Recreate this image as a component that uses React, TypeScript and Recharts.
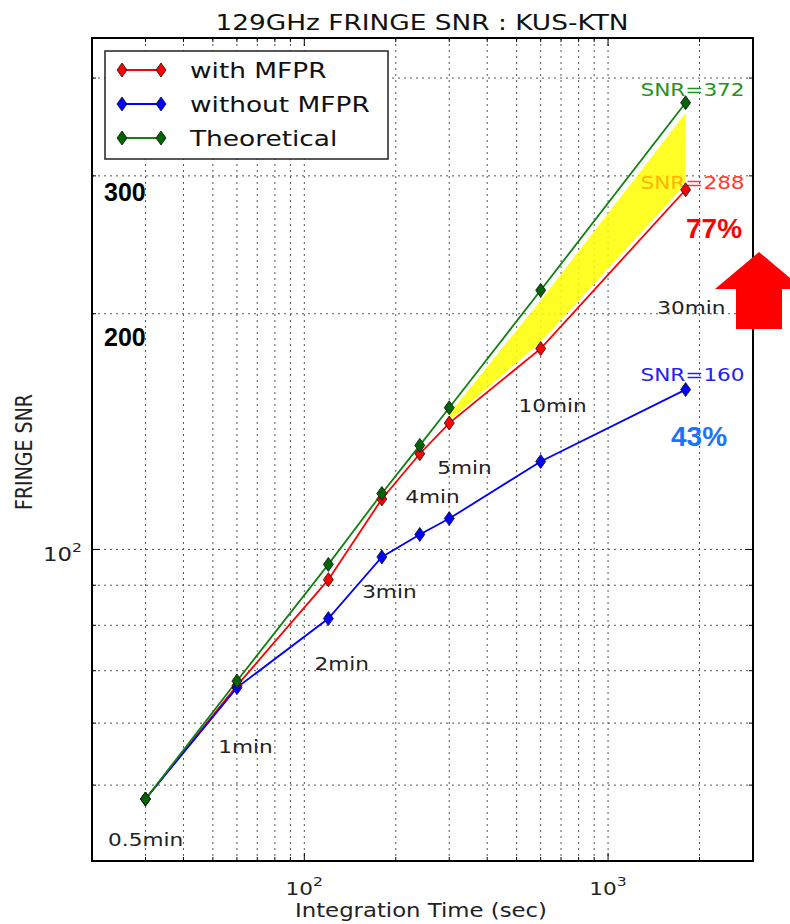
import { ComposedChart, Line, Area, XAxis, YAxis, CartesianGrid, Legend, ReferenceDot, ReferenceArea } from 'recharts';

// integration time (sec) and SNR readings
const times = [30, 60, 120, 180, 240, 300, 600, 1800];
const withMfpr = [48, 67, 91.5, 116, 132.5, 145, 180.5, 288];
const withoutMfpr = [48, 66.6, 81.6, 97.8, 104.5, 109.5, 129.5, 160];
const theoretical = [48, 67.9, 95.7, 117.9, 135.8, 151.7, 214.3, 372];
// yellow band between "with MFPR" and "Theoretical"
const gapLow = [null, null, null, null, null, 146, 184, 293];
const gapHigh = [null, null, null, null, null, 149, 208, 361];

const xTicks = [30, 40, 50, 60, 70, 80, 90, 100, 200, 300, 400, 500, 600, 700, 800, 900, 1000, 2000];
const yTicks = [50, 60, 70, 80, 90, 100, 200, 300, 400];
const majorTicks: Record<number, string> = { 100: '2', 1000: '3' };

const minuteLabels = [
  { t: 22.6, v: 41.8, text: '0.5min' },
  { t: 52.1, v: 54.9, text: '1min' },
  { t: 108, v: 70.1, text: '2min' },
  { t: 155, v: 86.6, text: '3min' },
  { t: 215, v: 114.8, text: '4min' },
  { t: 274, v: 124.7, text: '5min' },
  { t: 507, v: 149.6, text: '10min' },
  { t: 1453, v: 200, text: '30min' },
];

const snrLabels = [
  { t: 1278, v: 379, parts: [{ s: 'SNR=372', c: '#1f931f' }] },
  { t: 1278, v: 289, parts: [{ s: 'SNR', c: '#ffb400' }, { s: '=288', c: '#ff3a3a' }] },
  { t: 1278, v: 164, parts: [{ s: 'SNR=160', c: '#2323f0' }] },
];

const series = [
  { key: 'withMfpr', name: 'with MFPR', color: '#ff0000', marker: '#ff0000' },
  { key: 'withoutMfpr', name: 'without MFPR', color: '#0000ff', marker: '#0000ff' },
  { key: 'theoretical', name: 'Theoretical', color: '#118011', marker: '#006400' },
];

const data = times.map((t, i) => ({
  t,
  withMfpr: withMfpr[i],
  withoutMfpr: withoutMfpr[i],
  theoretical: theoretical[i],
  gap: gapLow[i] == null ? null : [gapLow[i], gapHigh[i]],
}));

const FONT = '"DejaVu Sans", sans-serif';
const SX = 1.2; // the source image is stretched horizontally

function Diamond({ cx, cy, fill }: { cx: number; cy: number; fill: string }) {
  return (
    <polygon
      points={`${cx},${cy - 7} ${cx + 5},${cy} ${cx},${cy + 7} ${cx - 5},${cy}`}
      fill={fill}
      stroke="#111"
      strokeWidth={0.8}
    />
  );
}

function XTick({ x, y, payload, top }: any) {
  const v = payload.value;
  const exp = majorTicks[v];
  const len = exp ? 8 : 4;
  return (
    <g>
      <line x1={x} x2={x} y1={y} y2={top ? y + len : y - len} stroke="#000" />
      {exp && !top && (
        <text transform={`translate(${x},${y + 34}) scale(${SX},1)`} textAnchor="middle" fontFamily={FONT} fontSize={18} fill="#222">
          10<tspan dy={-9} fontSize={13}>{exp}</tspan>
        </text>
      )}
    </g>
  );
}

function YTick({ x, y, payload, right }: any) {
  const v = payload.value;
  const exp = majorTicks[v];
  const len = exp ? 8 : 4;
  return (
    <g>
      <line x1={x} x2={right ? x - len : x + len} y1={y} y2={y} stroke="#000" />
      {exp && !right && (
        <text transform={`translate(${x - 10},${y + 12}) scale(${SX},1)`} textAnchor="end" fontFamily={FONT} fontSize={19} fill="#222">
          10<tspan dy={-9} fontSize={13}>{exp}</tspan>
        </text>
      )}
    </g>
  );
}

function LegendBox() {
  return (
    <svg width={286} height={112}>
      <rect x={1} y={1} width={283} height={108} fill="#fff" stroke="#222" strokeWidth={1.5} />
      {series.map((s, i) => {
        const cy = 20 + i * 34;
        return (
          <g key={s.key}>
            <line x1={18} x2={57} y1={cy} y2={cy} stroke={s.color} strokeWidth={1.8} />
            <Diamond cx={18} cy={cy} fill={s.marker} />
            <Diamond cx={57} cy={cy} fill={s.marker} />
            <text transform={`translate(86,${cy + 8}) scale(${SX},1)`} fontFamily={FONT} fontSize={22} fill="#111">
              {s.name}
            </text>
          </g>
        );
      })}
    </svg>
  );
}

export default function App() {
  return (
    <div style={{ position: 'absolute', left: 0, top: 0, width: 790, height: 924, background: '#fff', overflow: 'hidden' }}>
      <ComposedChart width={790} height={924} data={data} margin={{ top: 37, right: 36, bottom: 0, left: 0 }}>
        <CartesianGrid stroke="#555" strokeDasharray="2 4" strokeWidth={1} />
        <XAxis
          dataKey="t"
          type="number"
          scale="log"
          domain={[20, 3000]}
          allowDataOverflow
          ticks={xTicks}
          interval={0}
          height={63}
          tickSize={0}
          tickMargin={0}
          axisLine={{ stroke: '#000', strokeWidth: 2 }}
          tick={<XTick />}
        />
        <XAxis
          xAxisId="top"
          orientation="top"
          dataKey="t"
          type="number"
          scale="log"
          domain={[20, 3000]}
          allowDataOverflow
          ticks={xTicks}
          interval={0}
          height={1}
          tickSize={0}
          tickMargin={0}
          axisLine={{ stroke: '#000', strokeWidth: 2 }}
          tick={<XTick top />}
        />
        <YAxis
          type="number"
          scale="log"
          domain={[40, 450]}
          allowDataOverflow
          ticks={yTicks}
          interval={0}
          width={92}
          tickSize={0}
          tickMargin={0}
          axisLine={{ stroke: '#000', strokeWidth: 2 }}
          tick={<YTick />}
        />
        <YAxis
          yAxisId="right"
          orientation="right"
          type="number"
          scale="log"
          domain={[40, 450]}
          allowDataOverflow
          ticks={yTicks}
          interval={0}
          width={1}
          tickSize={0}
          tickMargin={0}
          axisLine={{ stroke: '#000', strokeWidth: 2 }}
          tick={<YTick right />}
        />
        <ReferenceArea x1={20} x2={3000} y1={40} y2={450} fill="none" stroke="#000" strokeWidth={2} ifOverflow="visible" />
        <Legend
          layout="vertical"
          align="center"
          verticalAlign="middle"
          wrapperStyle={{ left: 104, top: 50, width: 286, height: 112 }}
          content={() => <LegendBox />}
        />
        <Area
          dataKey="gap"
          fill="#ffff00"
          fillOpacity={0.85}
          stroke="none"
          legendType="none"
          isAnimationActive={false}
        />
        {series.map((s) => (
          <Line
            key={s.key}
            dataKey={s.key}
            name={s.name}
            stroke={s.color}
            strokeWidth={1.8}
            isAnimationActive={false}
            dot={(p: any) => <Diamond key={`${s.key}-${p.index}`} cx={p.cx} cy={p.cy} fill={s.marker} />}
            activeDot={false}
          />
        ))}
        {minuteLabels.map((m) => (
          <ReferenceDot
            key={m.text}
            x={m.t}
            y={m.v}
            r={0}
            shape={(p: any) => (
              <text transform={`translate(${p.cx},${p.cy}) scale(${SX},1)`} fontFamily={FONT} fontSize={18} fill="#222">
                {m.text}
              </text>
            )}
          />
        ))}
        {snrLabels.map((m, i) => (
          <ReferenceDot
            key={i}
            x={m.t}
            y={m.v}
            r={0}
            shape={(p: any) => (
              <text transform={`translate(${p.cx},${p.cy}) scale(${SX},1)`} fontFamily={FONT} fontSize={18}>
                {m.parts.map((q) => (
                  <tspan key={q.s} fill={q.c}>{q.s}</tspan>
                ))}
              </text>
            )}
          />
        ))}
      </ComposedChart>
      <svg width={790} height={924} style={{ position: 'absolute', left: 0, top: 0, pointerEvents: 'none' }}>
        <text transform={`translate(422,30) scale(${SX},1)`} textAnchor="middle" fontFamily={FONT} fontSize={22} fill="#111">
          129GHz FRINGE SNR : KUS-KTN
        </text>
        <text transform={`translate(421,917) scale(${SX},1)`} textAnchor="middle" fontFamily={FONT} fontSize={19} fill="#222">
          Integration Time (sec)
        </text>
        <text transform={`translate(32,452) scale(${SX},1) rotate(-90)`} textAnchor="middle" fontFamily={FONT} fontSize={19} fill="#222">
          FRINGE SNR
        </text>
        <text x={104} y={201} fontFamily='"Liberation Sans", Arial, sans-serif' fontWeight="bold" fontSize={25} fill="#000">300</text>
        <text x={104} y={346} fontFamily='"Liberation Sans", Arial, sans-serif' fontWeight="bold" fontSize={25} fill="#000">200</text>
        <text x={686} y={238} fontFamily='"Liberation Sans", Arial, sans-serif' fontWeight="bold" fontSize={28} fill="#ff0000">77%</text>
        <text x={671} y={446} fontFamily='"Liberation Sans", Arial, sans-serif' fontWeight="bold" fontSize={28} fill="#1874ff">43%</text>
        <polygon points="759,252 715,289 736,289 736,329 782,329 782,289 803,289" fill="#ff0000" />
      </svg>
    </div>
  );
}
